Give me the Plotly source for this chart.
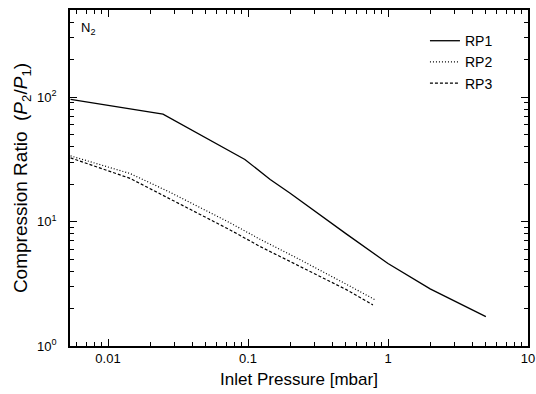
import plotly.graph_objects as go
import numpy as np

rp1_x = [0.0054, 0.0247, 0.095, 0.144, 0.2, 0.385, 0.5, 1.0, 2.0, 5.0]
rp1_y = [96, 73, 31.5, 21.8, 16.9, 9.8, 8.0, 4.6, 2.88, 1.72]

rp2_x = [0.0054, 0.0144, 0.0277, 0.074, 0.122, 0.223, 0.5, 0.81]
rp2_y = [33.7, 24.3, 17.2, 9.8, 7.2, 5.1, 3.15, 2.35]

rp3_x = [0.0054, 0.0144, 0.0277, 0.074, 0.122, 0.223, 0.5, 0.78]
rp3_y = [32.5, 22.2, 15.2, 8.6, 6.3, 4.5, 2.85, 2.14]

xtick_vals = [0.01, 0.1, 1, 10]
xtick_text = ["0.01", "0.1", "1", "10"]
ytick_vals = [1, 10, 100]
ytick_text = ["10<sup>0</sup>", "10<sup>1</sup>", "10<sup>2</sup>"]

FONT = "Liberation Sans, Arial, sans-serif"

fig = go.Figure()
fig.add_trace(go.Scatter(x=rp1_x, y=rp1_y, mode="lines", name="RP1",
                         line=dict(color="black", width=1.3, dash="solid")))
fig.add_trace(go.Scatter(x=rp2_x, y=rp2_y, mode="lines", name="RP2",
                         line=dict(color="black", width=1.2, dash="1px,2px")))
fig.add_trace(go.Scatter(x=rp3_x, y=rp3_y, mode="lines", name="RP3",
                         line=dict(color="black", width=1.2, dash="3px,2px")))

axis_common = dict(
    type="log", showgrid=False, zeroline=False, showline=True, linecolor="black",
    linewidth=1.5, mirror="ticks", ticks="inside", ticklen=7, tickwidth=1.2,
    tickcolor="black", automargin=False,
    minor=dict(ticks="inside", ticklen=4, tickwidth=1, tickcolor="black",
               dtick="D1", showgrid=False),
    tickfont=dict(family=FONT, size=13, color="black"),
)

fig.update_layout(
    width=536, height=394,
    margin=dict(l=70, r=8, t=10, b=48),
    paper_bgcolor="white", plot_bgcolor="white",
    font=dict(family=FONT, color="black"),
    showlegend=True,
    legend=dict(x=0.775, y=0.955, xanchor="left", yanchor="top",
                bgcolor="rgba(0,0,0,0)", font=dict(family=FONT, size=14),
                tracegroupgap=0, itemwidth=30),
    xaxis=dict(axis_common, range=[np.log10(0.00535), 1],
               tickvals=xtick_vals, ticktext=xtick_text,
               title=dict(text="Inlet Pressure [mbar]", font=dict(family=FONT, size=17),
                          standoff=8)),
    yaxis=dict(axis_common, range=[0, 2.7],
               tickvals=ytick_vals, ticktext=ytick_text, ticklabelstandoff=9,
               title=dict(text="Compression Ratio  (<i>P</i><sub>2</sub>/<i>P</i><sub>1</sub>)",
                          font=dict(family=FONT, size=19), standoff=4)),
    annotations=[dict(x=0.02, y=0.975, xref="paper", yref="paper",
                      text="N<sub>2</sub>", showarrow=False, xanchor="left", yanchor="top",
                      font=dict(family=FONT, size=13))],
)

fig.write_html("out.html")
